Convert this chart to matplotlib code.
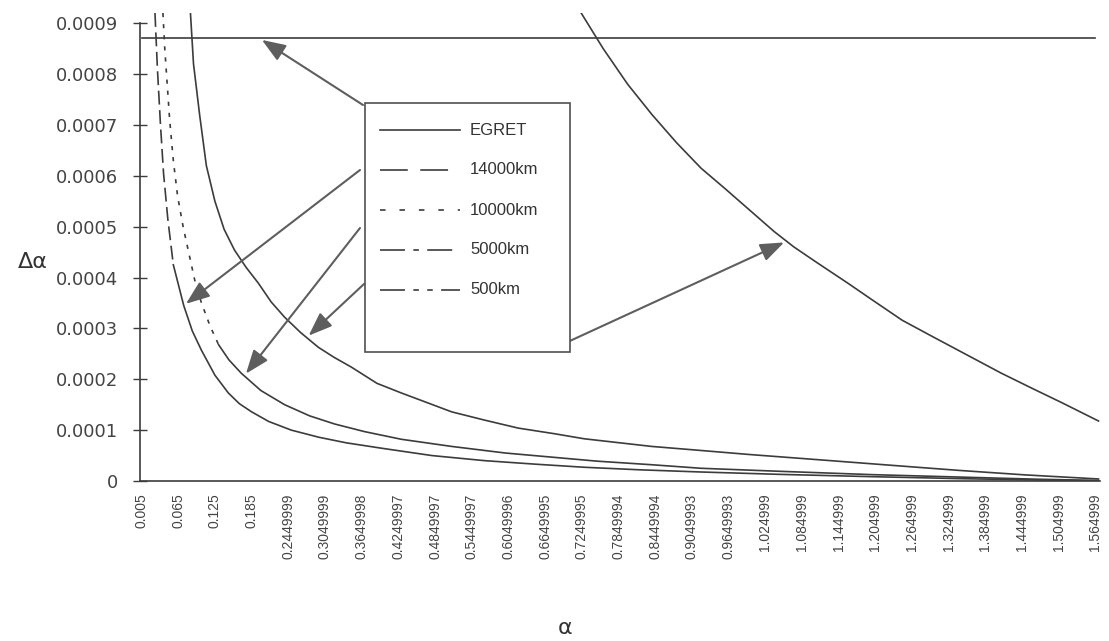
import numpy as np
import matplotlib
matplotlib.use('Agg')
import matplotlib.pyplot as plt
from matplotlib.lines import Line2D
from matplotlib.patches import Rectangle

plt.rcParams['lines.scale_dashes'] = False

# category labels of the x axis (as printed)
tick_labels = ['0.005', '0.065', '0.125', '0.185', '0.2449999', '0.3049999', '0.3649998',
               '0.4249997', '0.4849997', '0.5449997', '0.6049996', '0.6649995', '0.7249995',
               '0.7849994', '0.8449994', '0.9049993', '0.9649993', '1.024999', '1.084999',
               '1.144999', '1.204999', '1.264999', '1.324999', '1.384999', '1.444999',
               '1.504999', '1.564999']
y_ticks = [0, 0.0001, 0.0002, 0.0003, 0.0004, 0.0005, 0.0006, 0.0007, 0.0008, 0.0009]
y_labels = ['0', '0.0001', '0.0002', '0.0003', '0.0004', '0.0005', '0.0006', '0.0007', '0.0008', '0.0009']

# series
egret_a = [0.005, 1.565]
egret_v = [0.00087, 0.00087]

a14000 = [0.027, 0.031, 0.036, 0.041, 0.048, 0.057, 0.074, 0.088, 0.103, 0.125, 0.147, 0.165, 0.185,
          0.213, 0.25, 0.295, 0.34, 0.40, 0.48, 0.566, 0.65, 0.729, 0.82, 0.92, 1.05, 1.2, 1.35, 1.47, 1.57]
v14000 = [0.00092, 0.00081, 0.000700, 0.000605, 0.000515, 0.000425, 0.000345, 0.000295, 0.000257,
          0.000208, 0.000173, 0.000152, 0.000136, 0.000117, 0.000100, 0.000086, 0.000075, 0.000064,
          0.000050, 0.000040, 0.000033, 0.000027, 0.000022, 0.0000177, 0.000013, 0.0000085,
          0.0000045, 0.000002, 0.0000005]

a10000 = [0.040, 0.043, 0.047, 0.051, 0.057, 0.064, 0.073, 0.082, 0.092, 0.103, 0.117, 0.131, 0.148,
          0.168, 0.20, 0.239, 0.28, 0.321, 0.37, 0.43, 0.512, 0.60, 0.675, 0.75, 0.839, 0.92, 1.05,
          1.2, 1.35, 1.47, 1.57]
v10000 = [0.00092, 0.00085, 0.00078, 0.00071, 0.00063, 0.00056, 0.00050, 0.00045, 0.000395, 0.00035,
          0.000305, 0.000268, 0.000238, 0.000212, 0.000178, 0.000150, 0.000128, 0.000112, 0.000097,
          0.000082, 0.000068, 0.000055, 0.000047, 0.000039, 0.000032, 0.000025, 0.000019, 0.0000125,
          0.0000075, 0.0000035, 0.000001]

a5000 = [0.085, 0.090, 0.100, 0.111, 0.125, 0.140, 0.157, 0.176, 0.196, 0.217, 0.239, 0.265, 0.294,
         0.32, 0.348, 0.39, 0.43, 0.47, 0.512, 0.565, 0.621, 0.68, 0.729, 0.839, 0.92, 1.0, 1.121,
         1.23, 1.34, 1.45, 1.57]
v5000 = [0.00092, 0.00082, 0.00072, 0.00062, 0.00055, 0.000495, 0.000454, 0.00042, 0.000389, 0.000352,
         0.000322, 0.000292, 0.000263, 0.000243, 0.000224, 0.000192, 0.000173, 0.000155, 0.000136,
         0.000120, 0.000104, 0.000093, 0.000083, 0.000068, 0.000060, 0.000052, 0.000041, 0.000031,
         0.000021, 0.000012, 0.000004]

a500 = [0.724, 0.76, 0.80, 0.84, 0.88, 0.92, 0.96, 1.00, 1.04, 1.072, 1.11, 1.16, 1.20, 1.249, 1.30,
        1.35, 1.411, 1.46, 1.51, 1.57]
v500 = [0.00092, 0.00085, 0.00078, 0.00072, 0.000665, 0.000615, 0.000574, 0.000532, 0.00049, 0.00046,
        0.000429, 0.000389, 0.000356, 0.000316, 0.000283, 0.000251, 0.000212, 0.000183, 0.000154, 0.000118]

names = ['EGRET', '14000km', '10000km', '5000km', '500km']

W, H = 1109, 641
ink = '#3c3c3c'
arrow_c = '#5e5e5e'

fig = plt.figure(figsize=(W / 100, H / 100), dpi=100)
ax = fig.add_axes([140 / W, (H - 481) / H, 960 / W, 468 / H])

# dash patterns (points) for the legend keys and for the steep parts of the curves
legend_dashes = {'14000km': (20, 9), '10000km': (4, 10), '5000km': (18, 6, 4, 6),
                 '500km': (18, 6, 4, 6, 4, 6)}
curve_dashes = {'14000km': (10, 4), '10000km': (3, 5)}


def draw(a, v, dashes=None, dashed_above=None):
    a = np.asarray(a)
    v = np.asarray(v)
    if dashed_above is None:
        ax.plot(a, v, color=ink, lw=1.2)
        return
    n = int(np.sum(v > dashed_above))
    ax.plot(a[:n + 1], v[:n + 1], color=ink, lw=1.2, dashes=dashes)
    ax.plot(a[n:], v[n:], color=ink, lw=1.2)


draw(egret_a, egret_v)
draw(a14000, v14000, curve_dashes['14000km'], 0.00048)
draw(a10000, v10000, curve_dashes['10000km'], 0.00029)
draw(a5000, v5000)
draw(a500, v500)

ax.set_xlim(0.0025, 1.5725)
ax.set_ylim(0, 0.00092)
for s in ['top', 'right']:
    ax.spines[s].set_visible(False)
for s in ['left', 'bottom']:
    ax.spines[s].set_color(ink)
    ax.spines[s].set_linewidth(1.2)
ax.spines['left'].set_bounds(0, 0.0009)

ax.set_yticks(y_ticks)
ax.set_yticklabels(y_labels, fontsize=13, color='#444444', family='DejaVu Sans')
ax.tick_params(axis='y', direction='inout', length=10, width=1, color=ink, pad=11)
ax.set_xticks([float(s) for s in tick_labels])
ax.set_xticklabels(tick_labels, rotation=90, fontsize=10, color='#444444', family='Liberation Sans')
ax.tick_params(axis='x', length=0, pad=9)

fig.text(18 / W, 1 - 262 / H, 'Δα', fontsize=16, color='#333333', ha='left', va='center',
         family='DejaVu Sans')
fig.text(565 / W, 1 - 628 / H, 'α', fontsize=16, color='#333333', ha='center', va='center',
         family='DejaVu Sans')

# legend box drawn by hand
fig.patches.append(Rectangle((365, H - 352), 205, 249, transform=None, fill=True, facecolor='white',
                             edgecolor='#505050', lw=1.2, zorder=5))
legend_y = [130, 170, 210, 250, 290]
for name, y in zip(names, legend_y):
    ln = Line2D([380, 460], [H - y, H - y], color=ink, lw=1.2, transform=None, zorder=6)
    if name in legend_dashes:
        ln.set_dashes(legend_dashes[name])
    fig.lines.append(ln)
    fig.text(470 / W, (H - y) / H, name, fontsize=12, color='#333333', va='center',
             family='Liberation Sans', zorder=6)

# arrows from the legend to each curve
arrows = [
    ((363, 105), 0.198, egret_a, egret_v),
    ((360, 170), 0.074, a14000, v14000),
    ((360, 228), 0.173, a10000, v10000),
    ((364, 284), 0.275, a5000, v5000),
    ((548, 351), 1.06, a500, v500),
]
for (sx, sy), ta, xa, va in arrows:
    ax.annotate('', xy=(ta, np.interp(ta, xa, va)), xycoords='data',
                xytext=(sx, H - sy), textcoords='figure pixels', annotation_clip=False,
                arrowprops=dict(arrowstyle='-|>,head_length=1.45,head_width=0.55', color=arrow_c,
                                lw=1.5, shrinkA=0, shrinkB=2))

fig.savefig('out.png', dpi=100)
